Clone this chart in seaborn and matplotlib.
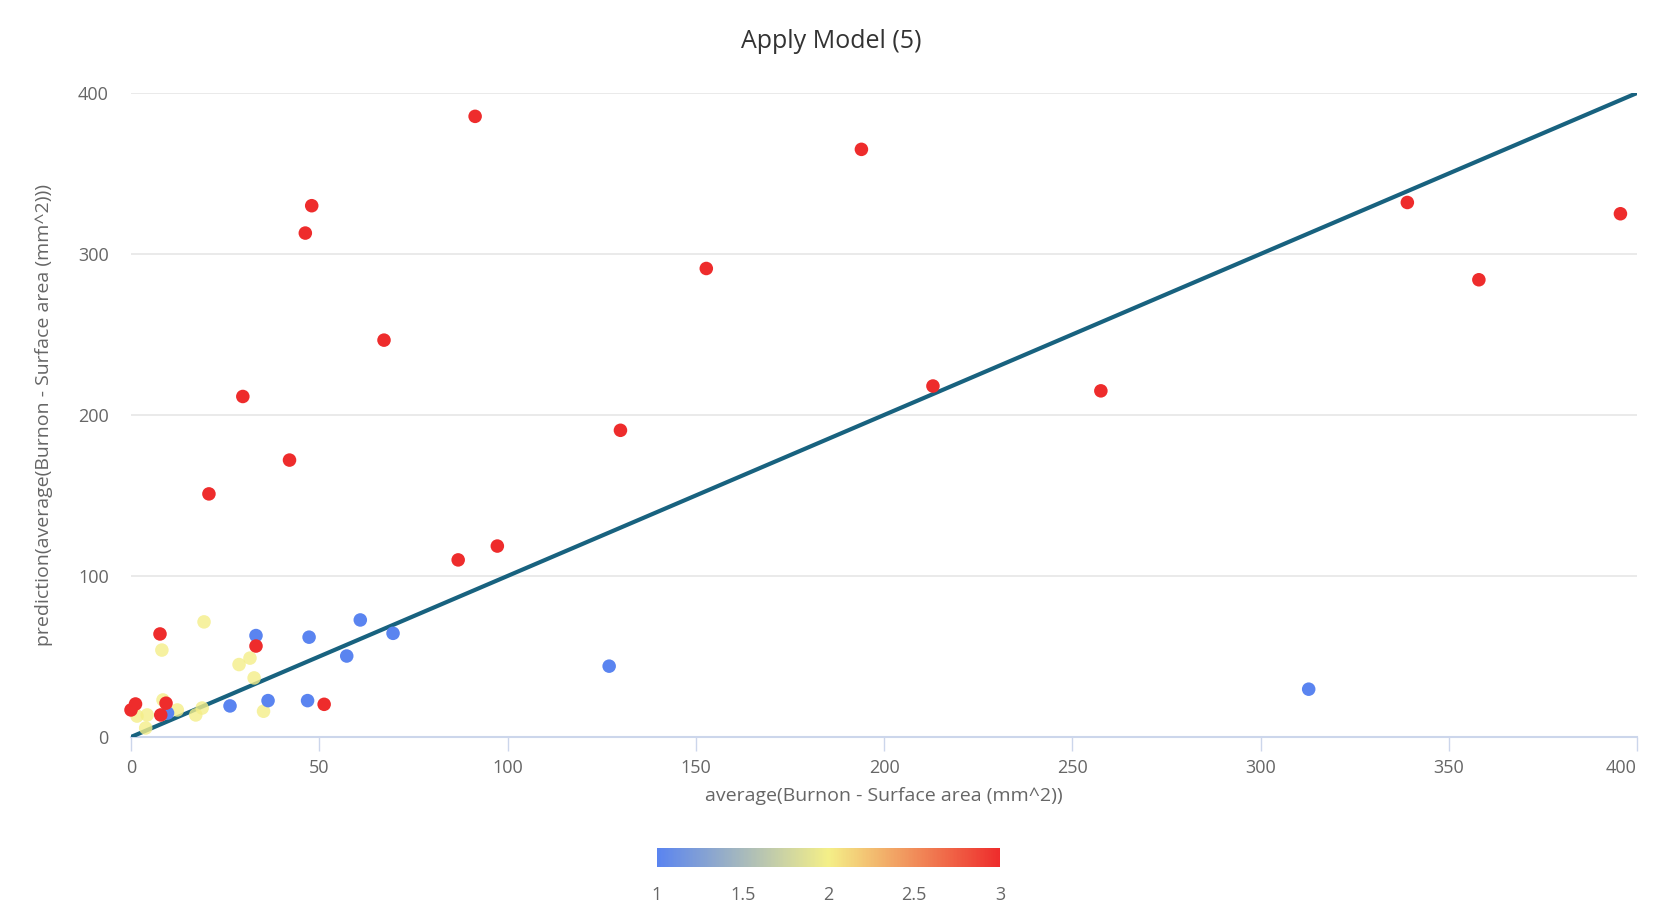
import numpy as np
import pandas as pd
import matplotlib
matplotlib.use("Agg")
import matplotlib.pyplot as plt
import matplotlib.colors as mcolors
import matplotlib.colorbar as mcolorbar
import seaborn as sns

# ---- data ----
x_red = [91.4, 194, 48, 46.3, 339, 395.6, 152.8, 358, 67.2, 29.7, 213, 257.6, 130, 42.1,
         20.7, 97.3, 86.9, 7.7, 33.2, 51.3, 1.2, 0.0, 9.3, 7.9]
y_red = [385.5, 365, 330, 313, 332, 325, 291, 284, 246.5, 211.5, 218, 215, 190.5, 172,
         151, 118.6, 110, 64, 56.5, 20.3, 20.5, 16.8, 21, 13.7]
x_blue = [312.8, 127, 60.9, 69.6, 47.3, 33.2, 57.3, 46.9, 36.4, 26.3, 9.7]
y_blue = [29.7, 44, 72.7, 64.4, 62, 63, 50.3, 22.6, 22.6, 19.3, 14.9]
x_yellow = [19.4, 8.2, 28.7, 31.6, 32.7, 35.2, 1.6, 4.3, 3.9, 8.5, 12.3, 17.2, 18.9]
y_yellow = [71.5, 54, 45, 49, 36.7, 16, 13, 13.7, 5.6, 23, 16.8, 13.7, 18]
cluster_red, cluster_blue, cluster_yellow = 3, 1, 2

line_x = [0, 400]
line_y = [0, 400]

x_ticks = [0, 50, 100, 150, 200, 250, 300, 350, 400]
y_ticks = [0, 100, 200, 300, 400]
cbar_ticks = [1, 1.5, 2, 2.5, 3]
cbar_labels = ["1", "1.5", "2", "2.5", "3"]

title = "Apply Model (5)"
x_label = "average(Burnon - Surface area (mm^2))"
y_label = "prediction(average(Burnon - Surface area (mm^2)))"

df_y = pd.DataFrame({"x": x_yellow, "y": y_yellow, "c": [cluster_yellow] * len(x_yellow)})
df_br = pd.DataFrame({
    "x": x_blue + x_red,
    "y": y_blue + y_red,
    "c": [cluster_blue] * len(x_blue) + [cluster_red] * len(x_red),
})

# ---- style ----
sns.set_style("white")
plt.rcParams["font.family"] = ["Open Sans", "DejaVu Sans"]

cmap = mcolors.LinearSegmentedColormap.from_list(
    "byr", ["#5a84f0", "#f4ef88", "#ee2c2c"])
norm = mcolors.Normalize(1, 3)

fig = plt.figure(figsize=(16.62, 9.05), dpi=100)
ax = fig.add_axes([131 / 1662, 1 - 737 / 905, (1637 - 131) / 1662, (737 - 93) / 905])

for v in y_ticks[1:]:
    ax.axhline(v, color="#e6e6e6", lw=1.2, zorder=0)

sns.lineplot(x=line_x, y=line_y, ax=ax, color="#18627f", lw=3, zorder=2)
sns.scatterplot(data=df_y, x="x", y="y", hue="c", palette=cmap, hue_norm=norm,
                legend=False, s=95, linewidth=0, ax=ax, zorder=3, clip_on=False, alpha=0.8)
sns.scatterplot(data=df_br, x="x", y="y", hue="c", palette=cmap, hue_norm=norm,
                legend=False, s=95, linewidth=0, ax=ax, zorder=4, clip_on=False)

ax.set_xlim(0, 400)
ax.set_ylim(0, 400)
ax.set_xticks(x_ticks)
ax.set_yticks(y_ticks)
ax.set_xticklabels([str(t) for t in x_ticks])
ax.set_yticklabels([str(t) for t in y_ticks])
ax.get_xticklabels()[-1].set_ha("right")
for s in ["top", "right", "left"]:
    ax.spines[s].set_visible(False)
ax.spines["bottom"].set_color("#ccd6eb")
ax.spines["bottom"].set_linewidth(1.5)
ax.spines["bottom"].set_zorder(1)
ax.tick_params(axis="x", length=10, width=1, color="#ccd6eb", labelsize=13,
               labelcolor="#666666", pad=6, direction="out", bottom=True)
ax.tick_params(axis="y", length=0, labelsize=13, labelcolor="#666666", pad=16)

ax.set_xlabel(x_label, fontsize=14, color="#666666", labelpad=7)
ax.set_ylabel(y_label, fontsize=14, color="#666666", labelpad=18)
fig.text(0.5, 1 - 41 / 905, title, ha="center", va="center", fontsize=18, color="#333333")

# colorbar
cax = fig.add_axes([657 / 1662, 1 - 867 / 905, (1000 - 657) / 1662, 19 / 905])
cb = mcolorbar.ColorbarBase(cax, cmap=cmap, norm=norm, orientation="horizontal")
cb.outline.set_visible(False)
cb.set_ticks(cbar_ticks)
cb.set_ticklabels(cbar_labels)
cax.tick_params(length=0, labelsize=13, labelcolor="#666666", pad=14)

fig.savefig("out.png", dpi=100, facecolor="white")
